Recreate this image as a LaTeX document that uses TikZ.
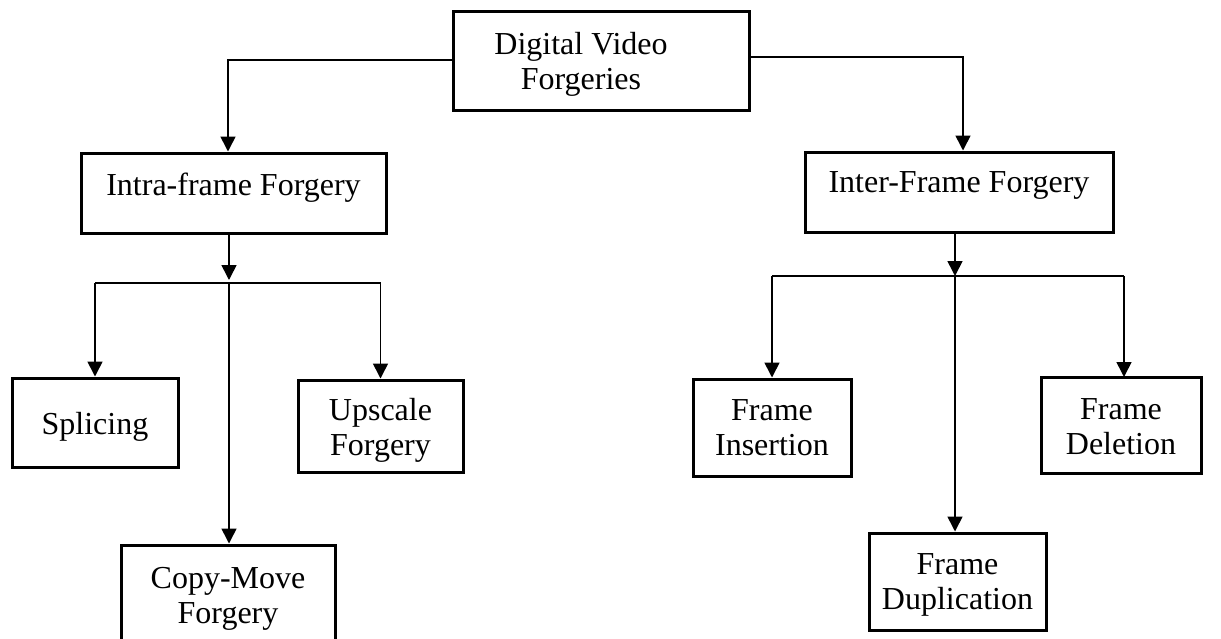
\documentclass[tikz,border=0pt]{standalone}
\usepackage{fontspec}
\setmainfont{Liberation Serif}
\usetikzlibrary{arrows.meta,positioning}

\begin{document}
\begin{tikzpicture}[
 x=0.5pt,y=-0.5pt,
 font=\fontsize{16}{17.5}\selectfont,
 box/.style={draw,line width=1.5pt,align=center,inner sep=0pt},
 link/.style={line width=0.8pt},
 tip/.style={link,-{Triangle[length=7.5pt,width=7.5pt]}},
]
\useasboundingbox (0,0) rectangle (1221,638);
\clip (0,0) rectangle (1221,638);

% root
\node[box,minimum width=148pt,minimum height=49.5pt] (dvf) at (601,60.5) {\rule{0pt}{26pt}\begin{tabular}{@{}c@{}}Digital Video\\Forgeries\end{tabular}\hspace{20pt}};

% second level
\node[box,minimum width=152.5pt,minimum height=40pt,text depth=8.4pt] (intra) at (233.5,193) {Intra-frame Forgery};
\node[box,minimum width=154pt,minimum height=40pt,text depth=10.4pt] (inter) at (959,192) {Inter-Frame Forgery};

% intra-frame leaves
\node[box,minimum width=83pt,minimum height=44.5pt,text height=15.9pt] (splicing) at (95,422.5) {Splicing};
\node[box,minimum width=82.5pt,minimum height=46pt] (upscale) at (380.5,426) {\rule{0pt}{15.4pt}Upscale\\Forgery};
\node[box,minimum width=107pt,minimum height=48pt] (copymove) at (228,593) {\rule{0pt}{16.9pt}Copy-Move\\Forgery};

% inter-frame leaves
\node[box,minimum width=79pt,minimum height=48.5pt] (insertion) at (772,427.5) {Frame\\Insertion};
\node[box,minimum width=80pt,minimum height=48pt] (deletion) at (1121,425) {\rule{0pt}{11.9pt}Frame\\Deletion};
\node[box,minimum width=88.5pt,minimum height=48.5pt] (duplication) at (957.5,581.5) {\rule{0pt}{13.9pt}Frame\\Duplication};

% root links
\coordinate (tl) at (228,60);
\coordinate (tr) at (963,57);
\draw[tip] (dvf.west |- tl) -- (tl) -- (tl |- intra.north);
\draw[tip] (dvf.east |- tr) -- (tr) -- (tr |- inter.north);

% intra-frame hub
\coordinate (ia) at (229,283);
\draw[tip] (intra.south -| ia) -- ([yshift=1.5pt]ia);
\draw[link] (ia -| splicing.north) -- (ia -| upscale.north);
\draw[tip] (ia -| splicing.north) -- (splicing.north);
\draw[tip] (ia -| upscale.north) -- (upscale.north);
\draw[tip] (ia) -- (ia |- copymove.north);

% inter-frame hub
\coordinate (ib) at (955,276);
\draw[tip] (inter.south -| ib) -- (ib);
\draw[link] (ib -| insertion.north) -- (1124,276);
\draw[tip] (ib -| insertion.north) -- (insertion.north);
\draw[tip] (1124,276) -- (1124,377);
\draw[tip] (ib) -- (ib |- duplication.north);
\end{tikzpicture}
\end{document}
